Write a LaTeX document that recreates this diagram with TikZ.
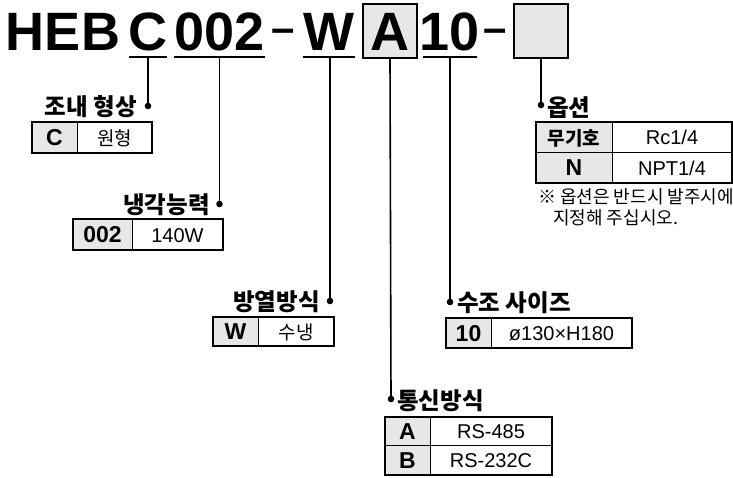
\documentclass[tikz,border=0pt]{standalone}
\usepackage{fontspec}
\setmainfont{Liberation Sans}
\newfontfamily\kr{Noto Sans CJK KR}
\definecolor{cellgray}{HTML}{E6E7E8}
\tikzset{
  titletxt/.style={font=\bfseries\fontsize{54}{54}\selectfont, inner sep=0, anchor=base},
  dashtxt/.style={font=\bfseries\fontsize{42}{42}\selectfont, inner sep=0, anchor=base},
  codebox/.style={draw=black, fill=cellgray, line width=1.6pt, inner sep=0, minimum width=54, minimum height=54},
  uline/.style={line width=1.6pt},
  conn/.style={line width=1.6pt},
  dotmark/.style={fill=black},
  lblL/.style={font=\kr\bfseries\fontsize{23.5}{23.5}\selectfont, inner sep=0, anchor=base east},
  lblR/.style={font=\kr\bfseries\fontsize{23.5}{23.5}\selectfont, inner sep=0, anchor=base west},
  codetxt/.style={font=\bfseries\fontsize{23}{23}\selectfont, inner sep=0, anchor=base},
  valtxt/.style={font=\fontsize{20}{20}\selectfont, inner sep=0, anchor=base},
  krcode/.style={font=\kr\bfseries\fontsize{19}{19}\selectfont, inner sep=0, anchor=base},
  tblouter/.style={line width=1.2pt},
  tbltop/.style={line width=2.2pt},
  tblinner/.style={line width=0.9pt},
  notetxt/.style={font=\kr\fontsize{18}{18}\selectfont, inner sep=0, anchor=base west},
}
\newcommand\krv[1]{{\kr\fontsize{19}{19}\selectfont #1}}
% name, x1, xdiv, x2, ytop, ybot, code-style, code, value
\newcommand\tblrowx[9]{%
  \fill[cellgray] (#2,#5) rectangle (#3,#6);
  \draw[tblinner] (#3,#5) -- (#3,#6);
  \node[#7] (#1c) at ({(#2+#3)/2},{(#5+#6)/2+8}) {#8};
  \node[valtxt] (#1v) at ({(#3+#4)/2},{(#5+#6)/2+7.5}) {#9};
}
\begin{document}
\begin{tikzpicture}[x=1pt,y=-1pt]
\useasboundingbox (0,0) rectangle (733,477);

% ---------- title ----------
\node[codebox] (bA) at (390,31) {};
\node[codebox] (bE) at (541,31) {};
\node[titletxt] (tHEB) at (63,50) {HEB};
\node[titletxt] (tC) at (147.5,50) {C};
\node[titletxt] (t002) at (219.5,50) {002};
\node[dashtxt] (tD1) at (283.5,42) {–};
\node[titletxt] (tW) at (329,50) {W};
\node[titletxt] (tA) at (390,50) {A};
\node[titletxt] (t10) at (450,50) {10};
\node[dashtxt] (tD2) at (495.5,42) {–};

% underlines
\coordinate (uC1) at (129,57);  \coordinate (uC2) at (167,57);
\coordinate (u21) at (174,57);  \coordinate (u22) at (265,57);
\coordinate (uW1) at (303,57);  \coordinate (uW2) at (355,57);
\coordinate (uT1) at (423,57);  \coordinate (uT2) at (477,57);
\draw[uline] (uC1) -- (uC2);
\draw[uline] (u21) -- (u22);
\draw[uline] (uW1) -- (uW2);
\draw[uline] (uT1) -- (uT2);

% connectors
\coordinate (sC) at (148,57);   \coordinate (dC) at (148,106);
\coordinate (s2) at (219.5,57); \coordinate (d2) at (219.5,204);
\coordinate (sW) at (330,57);   \coordinate (dW) at (330,301);
\coordinate (sT) at (450,57);   \coordinate (dT) at (450,302);
\coordinate (dA) at (391,399);
\coordinate (dE) at (541,105);
\draw[conn] (sC) -- (dC);
\draw[conn] (s2) -- (d2);
\draw[conn] (sW) -- (dW);
\draw[conn] (sT) -- (dT);
\draw[conn] (bA.south) -- (dA);
\draw[conn] (bE.south) -- (dE);
\foreach \p in {dC,d2,dW,dT,dA,dE} \fill[dotmark] (\p) circle (3.3);

% ---------- labels ----------
\node[lblL] (lC) at (137,115.5) {조내 형상};
\node[lblL] (l2) at (210,213.5) {냉각능력};
\node[lblL] (lW) at (320,310.5) {방열방식};
\node[lblR] (lT) at (457,311.5) {수조 사이즈};
\node[lblR] (lA) at (397,409.5) {통신방식};
\node[lblR] (lE) at (547,116) {옵션};

% ---------- tables ----------
% C
\tblrowx{rC}{32}{77}{152}{122}{153}{codetxt}{C}{\krv{원형}}
\draw[tblouter] (32,122) rectangle (152,153);
\draw[tbltop] (32,122) -- (152,122);
% 002
\tblrowx{r2}{73}{132}{223}{219}{250}{codetxt}{002}{140W}
\draw[tblouter] (73,219) rectangle (223,250);
\draw[tbltop] (73,219) -- (223,219);
% W
\tblrowx{rW}{213}{258}{334}{317}{346}{codetxt}{W}{\krv{수냉}}
\draw[tblouter] (213,317) rectangle (334,346);
\draw[tbltop] (213,317) -- (334,317);
% 10
\tblrowx{rT}{446}{491}{632}{318}{348}{codetxt}{10}{ø130×H180}
\draw[tblouter] (446,318) rectangle (632,348);
\draw[tbltop] (446,318) -- (632,318);
% A/B
\tblrowx{rA}{385}{430}{552}{417}{445}{codetxt}{A}{RS-485}
\tblrowx{rB}{385}{430}{552}{445}{475}{codetxt}{B}{RS-232C}
\draw[tblinner] (385,445) -- (552,445);
\draw[tblouter] (385,417) rectangle (552,475);
\draw[tbltop] (385,417) -- (552,417);
% option
\tblrowx{rO1}{536}{612}{732}{122}{152}{krcode}{무기호}{Rc1/4}
\tblrowx{rO2}{536}{612}{732}{152}{183}{codetxt}{N}{NPT1/4}
\draw[tblinner] (536,152) -- (732,152);
\draw[tblouter] (536,122) rectangle (732,183);
\draw[tbltop] (536,122) -- (732,122);

% note
\node[notetxt] (n1) at (538,203.5) {※ 옵션은 반드시 발주시에};
\node[notetxt] (n2) at (553,224) {지정해 주십시오.};
\end{tikzpicture}
\end{document}
